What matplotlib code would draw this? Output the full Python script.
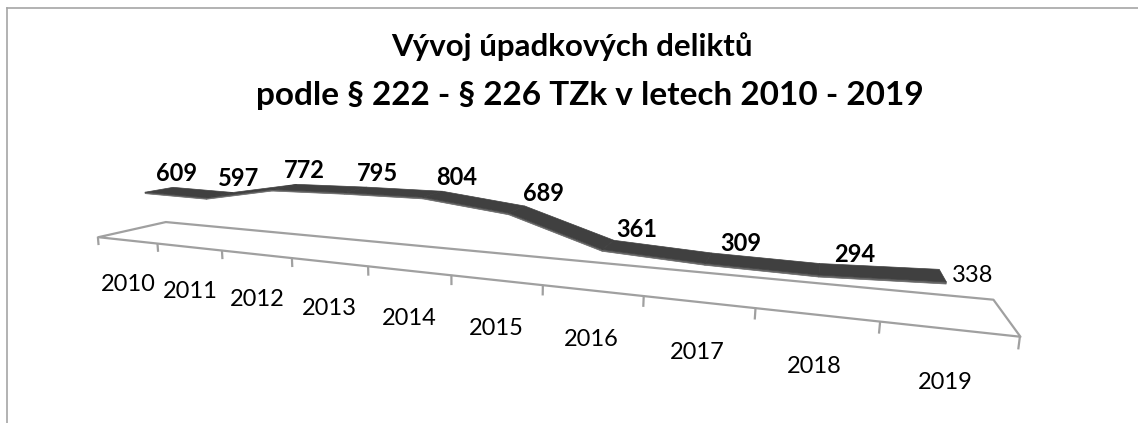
import matplotlib.pyplot as plt
import numpy as np
from matplotlib.transforms import offset_copy
from mpl_toolkits.mplot3d import proj3d
from mpl_toolkits.mplot3d.art3d import Poly3DCollection, Line3DCollection

years = ['2010', '2011', '2012', '2013', '2014', '2015', '2016', '2017', '2018', '2019']
values = [609, 597, 772, 795, 804, 689, 361, 309, 294, 338]
bold_label = [True, True, True, True, True, True, True, True, True, False]

title_1 = 'Vývoj úpadkových deliktů'
title_2 = 'podle § 222 - § 226 TZk v letech 2010 - 2019'

plt.rcParams['font.family'] = ['Lato', 'DejaVu Sans']

fig = plt.figure(figsize=(11.38, 4.23), dpi=100)

# chart area border (only top and left edge are in the crop)
fig.add_artist(plt.Line2D([0.0062, 1.0], [0.981, 0.981], color='#a6a6a6', lw=1.2))
fig.add_artist(plt.Line2D([0.0062, 0.0062], [0.0, 0.981], color='#a6a6a6', lw=1.2))

fig.text(0.503, 0.889, title_1, ha='center', va='center', fontsize=22.5, fontweight='bold')
fig.text(0.518, 0.775, title_2, ha='center', va='center', fontsize=24, fontweight='bold')

# square 3d axes, 1138 px wide, box centre around (474, 222) px
ax = fig.add_axes([-0.0973, -0.9066, 1.0, 2.690], projection='3d', computed_zorder=False)
ax.patch.set_visible(False)
ax.set_proj_type('persp', focal_length=0.1309)
ax.view_init(elev=10.5, azim=-66.6)
ax.set_box_aspect((5.14, 0.599, 0.471), zoom=0.7876)
ax.set_axis_off()

n = len(values)
ax.set_xlim(-0.5, n - 0.5)
ax.set_ylim(0, 1)
ax.set_zlim(0, 1000)

gray = '#a0a0a0'

# floor
floor = [[(-0.5, 0, 0), (n - 0.5, 0, 0), (n - 0.5, 1, 0), (-0.5, 1, 0)]]
ax.add_collection3d(Poly3DCollection(floor, facecolor='white', edgecolor=gray,
                                     linewidths=1.6, zorder=1), autolim=False)

# tick marks on the front edge, between categories
ticks = [[(k - 0.5, 0, 0), (k - 0.5, 0, -120)] for k in range(n + 1)]
ax.add_collection3d(Line3DCollection(ticks, colors=gray, linewidths=1.6, zorder=1),
                    autolim=False)

# the 3d line is a ribbon with some depth
y0, y1 = 0.3, 0.72
thick = 20
front, top = [], []
for i in range(n - 1):
    a, b = values[i], values[i + 1]
    front.append([(i, y0, a), (i + 1, y0, b), (i + 1, y0, b - thick), (i, y0, a - thick)])
    top.append([(i, y0, a), (i + 1, y0, b), (i + 1, y1, b), (i, y1, a)])
ax.add_collection3d(Poly3DCollection(front, facecolor='#656565', edgecolor='#656565',
                                     linewidths=0.5, zorder=2), autolim=False)
ax.add_collection3d(Poly3DCollection(top, facecolor='#404040', edgecolor='#404040',
                                     linewidths=0.5, zorder=3), autolim=False)


def to_screen(xs, ys, zs):
    sx, sy, _ = proj3d.proj_transform(np.asarray(xs, float), np.asarray(ys, float),
                                      np.asarray(zs, float), ax.get_proj())
    return sx, sy


idx = np.arange(n)

# data labels: above and a bit right of the point, the last one right of it
shift = np.where(idx == n - 1, 0.0, 0.3)
lx, ly = to_screen(idx + shift, np.full(n, 0.5), values)
for i, v in enumerate(values):
    if i == n - 1:
        tr = offset_copy(ax.transData, fig=fig, x=30, y=0, units='dots')
    else:
        tr = offset_copy(ax.transData, fig=fig, x=0, y=18, units='dots')
    ax.text2D(lx[i], ly[i], str(v), transform=tr, ha='center', va='center', fontsize=17,
              fontweight='bold' if bold_label[i] else 'normal', zorder=5)

# category labels
cx, cy = to_screen(idx, np.zeros(n), np.full(n, -250))
tr = offset_copy(ax.transData, fig=fig, x=0, y=-27, units='dots')
for i, yr in enumerate(years):
    ax.text2D(cx[i], cy[i], yr, transform=tr, ha='center', va='center', fontsize=17)

fig.savefig('out.png', dpi=100)
